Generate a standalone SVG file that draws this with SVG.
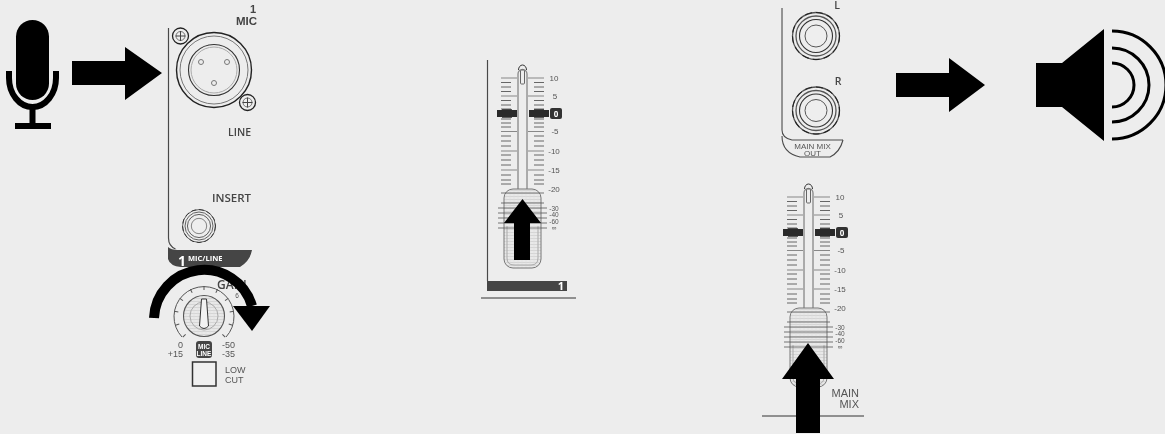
<svg xmlns="http://www.w3.org/2000/svg" width="1165" height="434" viewBox="0 0 1165 434">
<style>
text{font-family:"Open Sans","Liberation Sans",sans-serif;fill:#444}
.p{filter:url(#soft)}
.l{font-size:10.500px;font-weight:600}
.n{font-family:"Liberation Sans",Arial,sans-serif;font-size:8px;text-anchor:middle;fill:#555}
.d{font-family:"Liberation Sans",Arial,sans-serif;font-size:6.500px;text-anchor:middle;fill:#555}
.w{fill:#fff;font-weight:700}
.o{fill:none;stroke:#4a4a4a}
.k{fill:#000}
</style>
<defs>
<filter id="soft" x="-5%" y="-5%" width="110%" height="110%"><feGaussianBlur stdDeviation="0.35"/></filter>
<pattern id="hatch" width="4" height="3" patternUnits="userSpaceOnUse"><rect width="4" height="3" fill="#e9e9e9"/><path d="M0 1.500H4" stroke="#cfcfcf" stroke-width=".8"/><path d="M2 0V3" stroke="#dcdcdc" stroke-width=".5"/></pattern>
<g id="jack">
<circle r="23.500" fill="none" stroke="#555" stroke-width="1.300"/>
<circle r="23.500" fill="none" stroke="#222" stroke-width="1.100" stroke-dasharray="7 4"/>
<circle r="20" fill="none" stroke="#555" stroke-width="1.300"/>
<circle r="16.500" fill="none" stroke="#333" stroke-width="1.100"/>
<circle r="11" fill="#eee" stroke="#555" stroke-width="1"/>
</g>
<g id="screw">
<circle r="8" fill="#eee" stroke="#222" stroke-width="1.300"/>
<circle r="4.500" fill="none" stroke="#666" stroke-width=".9"/>
<path d="M-5 0H5M0-5V5" stroke="#444" stroke-width="1"/>
</g>
<g id="scale">
<path d="M518 200V74a4.500 4.500 0 0 1 9 0V200" fill="none" stroke="#888" stroke-width="1.300"/>
<path d="M518.500 70a4 5 0 0 1 8 0" fill="none" stroke="#333" stroke-width="1"/>
<rect x="520.500" y="70" width="4" height="14" rx="1" fill="#eee" stroke="#666" stroke-width="1"/>
<path d="M501 82.500H511M501 87H511M501 91.500H511M501 100.500H511M501 105H511M501 109H511M501 119H511M501 123H511M501 127H511M501 136H511M501 141H511M501 146H511M501 155H511M501 160H511M501 165H511M501 175H511M501 180H511M501 184H511M534 82.500H544M534 87H544M534 91.500H544M534 100.500H544M534 105H544M534 109H544M534 119H544M534 123H544M534 127H544M534 136H544M534 141H544M534 146H544M534 155H544M534 160H544M534 165H544M534 175H544M534 180H544M534 184H544" fill="none" stroke="#666" stroke-width="1"/>
<path d="M501 78H517M528 78H544M501 96H517M528 96H544M501 131.500H517M528 131.500H544M501 151H517M528 151H544M501 170H517M528 170H544" fill="none" stroke="#888" stroke-width="1.200"/>
<path d="M497 113.500H517M529 113.500H549" fill="none" stroke="#2b2b2b" stroke-width="7"/>
<path d="M502 113.500H512M534 113.500H544" fill="none" stroke="#2b2b2b" stroke-width="8.500"/>
<rect x="550" y="108" width="12" height="11" rx="2" fill="#333"/>
</g>
<g id="cap">
<rect x="504" y="189" width="37" height="79" rx="9" fill="url(#hatch)" stroke="#777" stroke-width="1"/>
<path d="M507 226V258q0 7 7 7H531q7 0 7-7V226" fill="none" stroke="#aaa" stroke-width="1"/>
<path d="M501 193H544M501 203H544M498 208H547M498 213H547M498 218H547M498 223H547M498 228H547" fill="none" stroke="#555" stroke-width=".8"/>
</g>
</defs>
<rect width="1165" height="434" fill="#ededed"/>

<g id="mic">
<rect x="16" y="20" width="33" height="80" rx="16.500" class="k"/>
<path d="M9 71V78a23.500 29 0 0 0 47 0V71" fill="none" stroke="#000" stroke-width="6"/>
<path d="M32.500 108V125M15 126H51" fill="none" stroke="#000" stroke-width="6"/>
</g>

<g id="channel-input" class="p">
<path d="M168.500 28V238q0 8 7 11" class="o" stroke-width="1.200"/>
<path d="M168 247q3 3 10 3H252q-2 11-12 17H181q-11-1-13-8Z" fill="#444"/>
<text x="182" y="266" class="w" text-anchor="middle" style="font-size:14px">1</text>
<text x="188" y="261" class="w" style="font-size:7.500px">MIC/LINE</text>
<text x="253" y="12.500" class="n" style="font-size:11px;font-weight:700;fill:#444">1</text>
<text x="257" y="25" class="n" style="text-anchor:end;font-size:11.500px;font-weight:700;fill:#444">MIC</text>
<text x="251" y="136" class="l" text-anchor="end">LINE</text>
<text x="251" y="202" class="l" text-anchor="end" style="font-size:11.500px">INSERT</text>
<circle cx="214" cy="70" r="37.500" fill="none" stroke="#222" stroke-width="1.400"/>
<circle cx="214" cy="70" r="34" fill="none" stroke="#777" stroke-width="1"/>
<circle cx="214" cy="70" r="25.500" fill="none" stroke="#333" stroke-width="1.100"/>
<circle cx="214" cy="70" r="23" fill="none" stroke="#aaa" stroke-width="1"/>
<circle cx="201" cy="62" r="2.500" fill="none" stroke="#777"/>
<circle cx="227" cy="62" r="2.500" fill="none" stroke="#777"/>
<circle cx="214" cy="83" r="2.500" fill="none" stroke="#777"/>
<use href="#screw" x="180.500" y="36"/>
<use href="#screw" x="247.500" y="102.500"/>
<use href="#jack" transform="translate(199 226) scale(.7)"/>
<text x="217" y="289" class="l" style="font-size:12px">GAIN</text>
<text x="237" y="298" class="d">6</text>
<path d="M182 337A30 30 0 1 1 226 337" fill="none" stroke="#555" stroke-width="1"/>
<g stroke="#555" stroke-width="1">
<path d="M204 286V290" transform="rotate(-135 204 316)"/><path d="M204 286V290" transform="rotate(-108 204 316)"/><path d="M204 286V290" transform="rotate(-81 204 316)"/><path d="M204 286V290" transform="rotate(-54 204 316)"/><path d="M204 286V290" transform="rotate(-27 204 316)"/><path d="M204 286V290"/><path d="M204 286V290" transform="rotate(27 204 316)"/><path d="M204 286V290" transform="rotate(54 204 316)"/><path d="M204 286V290" transform="rotate(81 204 316)"/><path d="M204 286V290" transform="rotate(108 204 316)"/><path d="M204 286V290" transform="rotate(135 204 316)"/>
</g>
<circle cx="204" cy="316" r="20.500" fill="url(#hatch)" stroke="#555" stroke-width="1.100"/>
<circle cx="204" cy="316" r="14" fill="none" stroke="#aaa" stroke-width="1"/>
<path d="M201.500 299H206.500L208.500 326Q204 331 199.500 326Z" fill="#f2f2f2" stroke="#333" stroke-width="1"/>
<text x="183" y="348" class="n" style="text-anchor:end;font-size:9px">0</text>
<text x="183" y="357" class="n" style="text-anchor:end;font-size:9px">+15</text>
<text x="222" y="348" class="n" style="text-anchor:start;font-size:9px">-50</text>
<text x="222" y="357" class="n" style="text-anchor:start;font-size:9px">-35</text>
<rect x="196" y="341" width="16" height="17" rx="3" fill="#444"/>
<text x="204" y="349" class="n" style="fill:#fff;font-size:6.500px;font-weight:700">MIC</text>
<text x="204" y="356" class="n" style="fill:#fff;font-size:6.500px;font-weight:700">LINE</text>
<rect x="192.500" y="362" width="23.500" height="24" fill="#f0f0f0" stroke="#333" stroke-width="1.500"/>
<text x="225" y="373" class="n" style="text-anchor:start;font-size:9px">LOW</text>
<text x="225" y="382.500" class="n" style="text-anchor:start;font-size:9px">CUT</text>
</g>

<g id="fader-channel" class="p">
<path d="M487.500 60V281" class="o" stroke-width="1.200"/>
<use href="#scale"/>
<use href="#cap"/>
<rect x="487" y="281" width="80" height="10" fill="#444"/>
<text x="561" y="290" class="w" text-anchor="middle" style="font-size:11px">1</text>
<path d="M481 298H576" stroke="#333" stroke-width="1"/>
<text x="554" y="80.500" class="n">10</text><text x="555" y="98.500" class="n">5</text>
<text x="556" y="116.500" class="w" text-anchor="middle" style="font-size:8px">0</text>
<text x="555" y="134" class="n">-5</text><text x="554" y="153.500" class="n">-10</text><text x="554" y="172.500" class="n">-15</text><text x="554" y="192" class="n">-20</text>
<text x="554" y="210.500" class="d">-30</text><text x="554" y="217" class="d">-40</text><text x="554" y="223.500" class="d">-60</text><text x="554" y="230" class="d">∞</text>
</g>

<g id="main-out" class="p">
<path d="M782 8V130q0 8 10 10H843" class="o" stroke-width="1.100"/>
<path d="M782 136q0 17 18 21H830q10-5 13-17" class="o" stroke-width="1.100"/>
<use href="#jack" x="816" y="36"/>
<use href="#jack" x="816" y="110.500"/>
<text x="837" y="9" class="l" text-anchor="middle">L</text>
<text x="838" y="85" class="l" text-anchor="middle">R</text>
<text x="812.500" y="148.500" class="n">MAIN MIX</text>
<text x="812.500" y="155.500" class="n">OUT</text>
</g>

<g id="fader-main" class="p">
<g transform="translate(286 119)"><use href="#scale"/><use href="#cap"/></g>
<path d="M762 416H864" stroke="#333" stroke-width="1"/>
<text x="840" y="199.500" class="n">10</text><text x="841" y="217.500" class="n">5</text>
<text x="842" y="235.500" class="w" text-anchor="middle" style="font-size:8px">0</text>
<text x="841" y="253" class="n">-5</text><text x="840" y="272.500" class="n">-10</text><text x="840" y="291.500" class="n">-15</text><text x="840" y="311" class="n">-20</text>
<text x="840" y="329.500" class="d">-30</text><text x="840" y="336" class="d">-40</text><text x="840" y="342.500" class="d">-60</text><text x="840" y="349" class="d">∞</text>
<text x="859" y="396.500" class="n" style="text-anchor:end;font-size:11px">MAIN</text>
<text x="859" y="408" class="n" style="text-anchor:end;font-size:11px">MIX</text>
</g>

<g id="speaker">
<path d="M1036 63H1062L1104 29V141L1062 107H1036Z" class="k"/>
<path d="M1112 31A54 54 0 0 1 1112 139M1112 48A37 37 0 0 1 1112 122M1112 63A22 22 0 0 1 1112 107" fill="none" stroke="#000" stroke-width="3"/>
</g>

<g id="connectors">
<path d="M72 61H125V47L162 73L125 100V85H72Z" class="k"/>
<path d="M896 73H949V58L985 85L949 112V97H896Z" class="k"/>
<path d="M154 318A50 50 0 0 1 252 306" fill="none" stroke="#000" stroke-width="10"/>
<path d="M233 306H270L252 331Z" class="k"/>
<path d="M514 260V223H504L522.500 199L541 223H530V260Z" class="k"/>
<path d="M796 433V379H782L808 343L834 379H820V433Z" class="k"/>
</g>
</svg>
